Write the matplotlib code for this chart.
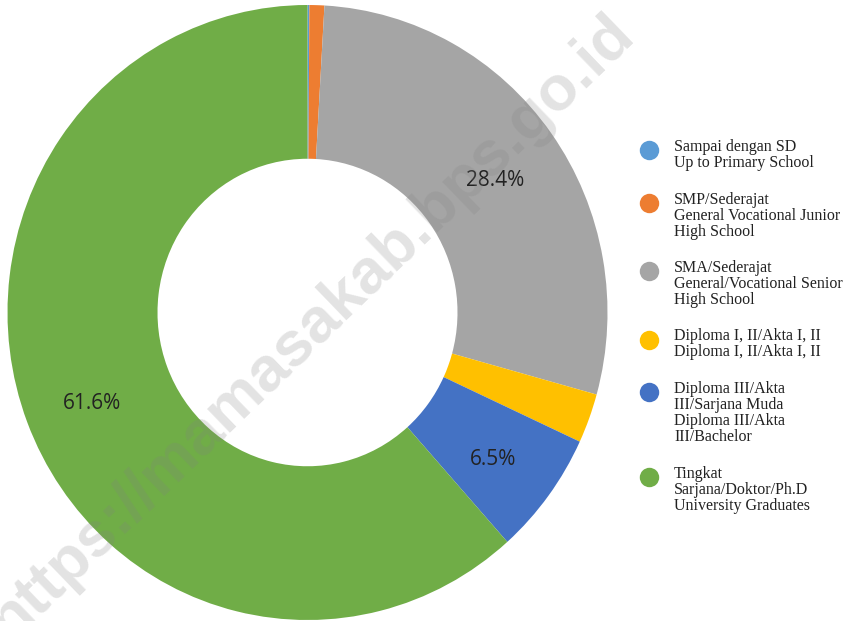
import matplotlib
matplotlib.use("Agg")
import matplotlib.pyplot as plt
from matplotlib.lines import Line2D
import numpy as np

categories = [
    "Sampai dengan SD\nUp to Primary School",
    "SMP/Sederajat\nGeneral Vocational Junior\nHigh School",
    "SMA/Sederajat\nGeneral/Vocational Senior\nHigh School",
    "Diploma I, II/Akta I, II\nDiploma I, II/Akta I, II",
    "Diploma III/Akta\nIII/Sarjana Muda\nDiploma III/Akta\nIII/Bachelor",
    "Tingkat\nSarjana/Doktor/Ph.D\nUniversity Graduates",
]
values = [0.1, 0.8, 28.4, 2.6, 6.5, 61.6]
shown_labels = [None, None, "28.4%", None, "6.5%", "61.6%"]
colors = ["#5B9BD5", "#ED7D31", "#A5A5A5", "#FFC000", "#4472C4", "#70AD47"]

W, H = 851, 621
fig = plt.figure(figsize=(W / 100, H / 100), dpi=100)

# pie axes (slightly taller than wide, as in the reference)
cx, cy, rx, ry = 307.5, 312.5, 300, 307.5
ax = fig.add_axes([(cx - rx) / W, (H - cy - ry) / H, 2 * rx / W, 2 * ry / H])
wedges, _ = ax.pie(values, colors=colors, startangle=90, counterclock=False,
                   radius=1.0, wedgeprops=dict(width=0.5, linewidth=0))
ax.set_xlim(-1, 1)
ax.set_ylim(-1, 1)
ax.set_aspect("auto")
ax.axis("off")

total = sum(values)
start = 90.0
for v, lab in zip(values, shown_labels):
    mid = start - v / total * 360 / 2
    start -= v / total * 360
    if lab:
        r = 0.77
        ax.text(r * np.cos(np.radians(mid)), r * np.sin(np.radians(mid)) - 0.02, lab,
                ha="center", va="center", fontsize=15, color="#222222",
                family="Open Sans")

# legend drawn manually
y = 147
line_h = 16
for cat, col in zip(categories, colors):
    lines = cat.split("\n")
    fig.add_artist(Line2D([649 / W], [(H - y - 3) / H], marker="o", markersize=14,
                          color=col, markeredgewidth=0, linestyle="none",
                          transform=fig.transFigure))
    for i, ln in enumerate(lines):
        fig.text(674 / W, (H - y - i * line_h) / H, ln, ha="left", va="center",
                 fontsize=11.5, family="Liberation Serif", color="#222222")
    y += len(lines) * line_h + 20.5

# watermark
fig.text(311 / W, (H - 327) / H, "https://mamasakab.bps.go.id", rotation=44,
         ha="center", va="center", fontsize=45.5, fontweight="bold",
         family="Liberation Sans", color="#808080", alpha=0.22,
         rotation_mode="anchor")

fig.savefig("out.png", dpi=100)
